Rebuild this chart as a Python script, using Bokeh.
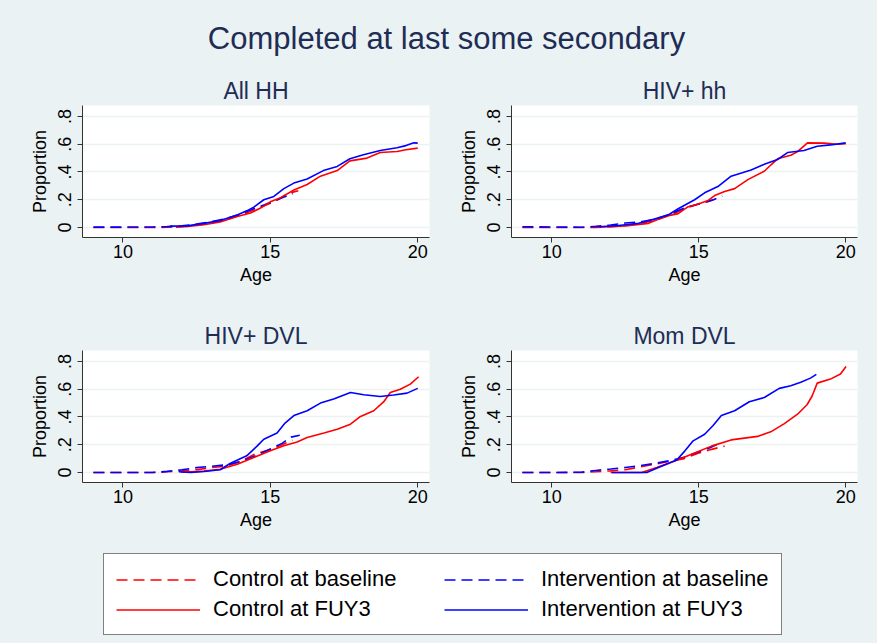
from bokeh.plotting import figure
from bokeh.models import Range1d, FixedTicker, Legend, LegendItem, Label
from bokeh.layouts import column, row
from bokeh.embed import file_html
from bokeh.resources import INLINE

BG = "#EAF2F3"
NAVY = "#1f2d55"
FONT = "Liberation Sans"
RED = "#FF0000"
BLUE = "#0000FF"
DASH = "11 6"

main_title = "Completed at last some secondary"
panel_titles = ["All HH", "HIV+ hh", "HIV+ DVL", "Mom DVL"]
x_label = "Age"
y_label = "Proportion"
x_ticks = [10, 15, 20]
y_ticks = [0, 0.2, 0.4, 0.6, 0.8]
y_tick_labels = ["0", ".2", ".4", ".6", ".8"]
series_names = ["Control at baseline", "Intervention at baseline",
                "Control at FUY3", "Intervention at FUY3"]

# ---- All HH ----
allhh_ctrl_base_age = [9, 10, 11, 11.5, 12, 12.5, 13, 13.5, 14, 14.5, 15, 15.3, 15.6, 15.95]
allhh_ctrl_base_p = [0, 0, 0, 0.002, 0.007, 0.018, 0.033, 0.058, 0.09, 0.13, 0.175, 0.205, 0.245, 0.265]
allhh_int_base_age = [9, 10, 11, 11.5, 12, 12.5, 13, 13.5, 14, 14.5, 15, 15.4, 15.77]
allhh_int_base_p = [0.003, 0.003, 0.004, 0.006, 0.012, 0.025, 0.042, 0.065, 0.098, 0.14, 0.18, 0.215, 0.243]
allhh_ctrl_fu3_age = [11.8, 12.2, 12.75, 13.3, 13.88, 14.33, 14.67, 15.0, 15.35, 15.8, 16.25, 16.7,
                      17.27, 17.7, 18.28, 18.73, 19.3, 19.6, 20.0]
allhh_ctrl_fu3_p = [0.003, 0.007, 0.02, 0.04, 0.08, 0.105, 0.14, 0.185, 0.215, 0.27, 0.31, 0.37,
                    0.41, 0.48, 0.50, 0.54, 0.548, 0.56, 0.572]
allhh_int_fu3_age = [11.6, 12.18, 12.75, 13.3, 13.88, 14.2, 14.44, 14.78, 15.12, 15.46, 15.8, 16.25,
                     16.8, 17.27, 17.7, 18.16, 18.73, 19.3, 19.6, 19.87, 20.0]
allhh_int_fu3_p = [0.01, 0.012, 0.03, 0.05, 0.09, 0.12, 0.147, 0.2, 0.224, 0.28, 0.32, 0.35,
                   0.41, 0.44, 0.495, 0.524, 0.555, 0.575, 0.59, 0.61, 0.608]

# ---- HIV+ hh ----
hivhh_ctrl_base_age = [9, 10, 11, 11.5, 12, 12.5, 13, 13.5, 14, 14.5, 15, 15.3, 15.5]
hivhh_ctrl_base_p = [0, 0, 0, 0, 0.006, 0.014, 0.03, 0.05, 0.085, 0.135, 0.17, 0.185, 0.2]
hivhh_int_base_age = [9, 10, 11, 11.5, 12, 12.5, 13, 13.5, 14, 14.5, 15, 15.5, 15.8]
hivhh_int_base_p = [0.005, 0.004, 0.002, 0.008, 0.018, 0.033, 0.04, 0.06, 0.095, 0.14, 0.17, 0.2, 0.228]
hivhh_ctrl_fu3_age = [11.6, 12.5, 13.29, 13.85, 14.3, 14.64, 14.98, 15.32, 15.54, 15.88, 16.22, 16.67,
                      17.23, 17.45, 17.68, 18.13, 18.35, 18.7, 19.26, 19.71, 20.0]
hivhh_ctrl_fu3_p = [0.002, 0.012, 0.03, 0.08, 0.1, 0.15, 0.17, 0.195, 0.23, 0.26, 0.28, 0.345,
                    0.405, 0.45, 0.495, 0.52, 0.545, 0.61, 0.608, 0.6, 0.603]
hivhh_int_fu3_age = [11.6, 12.27, 12.95, 13.4, 13.96, 14.3, 14.86, 15.2, 15.65, 16.1, 16.78, 17.23,
                     17.68, 18.02, 18.58, 19.03, 19.48, 20.0]
hivhh_int_fu3_p = [0.005, 0.015, 0.03, 0.055, 0.09, 0.135, 0.2, 0.25, 0.295, 0.37, 0.415, 0.455,
                   0.49, 0.54, 0.555, 0.585, 0.595, 0.61]

# ---- HIV+ DVL ----
hivdvl_ctrl_base_age = [9, 10, 11, 11.5, 12, 12.5, 13, 13.5, 14, 14.5, 15, 15.3, 15.75]
hivdvl_ctrl_base_p = [0, 0, 0, 0.005, 0.012, 0.02, 0.035, 0.045, 0.08, 0.135, 0.165, 0.19, 0.233]
hivdvl_int_base_age = [9, 10, 11, 11.5, 12, 12.5, 13, 13.5, 14, 14.5, 15, 15.4, 15.7, 16.0]
hivdvl_int_base_p = [0, 0, 0, 0.008, 0.02, 0.035, 0.045, 0.055, 0.08, 0.12, 0.17, 0.21, 0.255, 0.268]
hivdvl_ctrl_fu3_age = [11.98, 12.75, 13.3, 13.88, 14.44, 15.0, 15.46, 15.91, 16.25, 16.82, 17.27, 17.72,
                       18.06, 18.51, 18.85, 19.07, 19.41, 19.75, 20.03]
hivdvl_ctrl_fu3_p = [0.002, 0.01, 0.024, 0.06, 0.108, 0.156, 0.192, 0.22, 0.252, 0.284, 0.312, 0.348,
                     0.404, 0.445, 0.51, 0.577, 0.6, 0.637, 0.69]
hivdvl_int_fu3_age = [11.9, 12.3, 12.75, 13.3, 13.65, 14.2, 14.55, 14.78, 15.23, 15.5, 15.8, 16.25,
                      16.7, 17.15, 17.72, 18.17, 18.73, 19.18, 19.64, 20.0]
hivdvl_int_fu3_p = [0.005, 0, 0.007, 0.02, 0.067, 0.12, 0.19, 0.24, 0.284, 0.356, 0.41, 0.445,
                    0.5, 0.53, 0.577, 0.56, 0.548, 0.558, 0.572, 0.606]

# ---- Mom DVL ----
momdvl_ctrl_base_age = [9, 10, 11, 11.5, 12, 12.5, 13, 13.5, 14, 14.5, 15, 15.4, 15.88]
momdvl_ctrl_base_p = [0, 0, 0, 0.005, 0.012, 0.02, 0.04, 0.06, 0.08, 0.1, 0.14, 0.165, 0.19]
momdvl_int_base_age = [9, 10, 11, 11.5, 12, 12.5, 13, 13.5, 14, 14.5, 15, 15.4, 15.8]
momdvl_int_base_p = [0, 0, 0.002, 0.015, 0.025, 0.036, 0.05, 0.065, 0.085, 0.11, 0.15, 0.18, 0.22]
momdvl_ctrl_fu3_age = [12.0, 13.06, 13.57, 14.25, 14.86, 15.43, 16.1, 17.0, 17.45, 17.9, 18.36, 18.69,
                       18.86, 19.03, 19.48, 19.82, 20.01]
momdvl_ctrl_fu3_p = [0, 0, 0.036, 0.089, 0.14, 0.19, 0.235, 0.26, 0.293, 0.35, 0.42, 0.49,
                     0.553, 0.644, 0.673, 0.71, 0.764]
momdvl_int_fu3_age = [12.05, 13.23, 13.63, 14.25, 14.53, 14.81, 15.2, 15.48, 15.77, 16.22, 16.72, 17.23,
                      17.74, 18.13, 18.47, 18.8, 19.0]
momdvl_int_fu3_p = [0, 0, 0.036, 0.09, 0.156, 0.228, 0.276, 0.337, 0.41, 0.445, 0.51, 0.54,
                    0.606, 0.625, 0.65, 0.68, 0.707]

panels_data = [
    [(allhh_ctrl_base_age, allhh_ctrl_base_p), (allhh_int_base_age, allhh_int_base_p),
     (allhh_ctrl_fu3_age, allhh_ctrl_fu3_p), (allhh_int_fu3_age, allhh_int_fu3_p)],
    [(hivhh_ctrl_base_age, hivhh_ctrl_base_p), (hivhh_int_base_age, hivhh_int_base_p),
     (hivhh_ctrl_fu3_age, hivhh_ctrl_fu3_p), (hivhh_int_fu3_age, hivhh_int_fu3_p)],
    [(hivdvl_ctrl_base_age, hivdvl_ctrl_base_p), (hivdvl_int_base_age, hivdvl_int_base_p),
     (hivdvl_ctrl_fu3_age, hivdvl_ctrl_fu3_p), (hivdvl_int_fu3_age, hivdvl_int_fu3_p)],
    [(momdvl_ctrl_base_age, momdvl_ctrl_base_p), (momdvl_int_base_age, momdvl_int_base_p),
     (momdvl_ctrl_fu3_age, momdvl_ctrl_fu3_p), (momdvl_int_fu3_age, momdvl_int_fu3_p)],
]
series_styles = [(RED, DASH), (BLUE, DASH), (RED, "solid"), (BLUE, "solid")]
LW = 1.6


def make_panel(title, data, w, h, bl, br, bt, bb):
    p = figure(width=w, height=h, x_range=Range1d(8.63, 20.4), y_range=Range1d(-0.072, 0.879),
               output_backend="svg", toolbar_location=None,
               min_border_left=bl, min_border_right=br, min_border_top=bt, min_border_bottom=bb,
               background_fill_color="white", border_fill_color=BG, outline_line_color=None)
    p.title.text = title
    p.title.align = "center"
    p.title.text_font = FONT
    p.title.text_font_size = "23px"
    p.title.text_font_style = "normal"
    p.title.text_color = NAVY
    p.title.standoff = 4
    for (xs, ys), (col, dash) in zip(data, series_styles):
        p.line(xs, ys, line_color=col, line_width=LW, line_dash=dash)
    p.xaxis.ticker = FixedTicker(ticks=x_ticks)
    p.yaxis.ticker = FixedTicker(ticks=y_ticks)
    p.yaxis.major_label_overrides = dict(zip(y_ticks, y_tick_labels))
    p.yaxis.major_label_orientation = "vertical"
    p.xaxis.axis_label = x_label
    p.yaxis.axis_label = y_label
    for ax in (p.xaxis[0], p.yaxis[0]):
        ax.axis_line_color = "#333333"
        ax.major_tick_line_color = "#333333"
        ax.major_tick_out = 5
        ax.major_tick_in = 0
        ax.minor_tick_line_color = None
        ax.major_label_text_font = FONT
        ax.major_label_text_font_size = "18px"
        ax.major_label_text_color = "black"
        ax.axis_label_text_font = FONT
        ax.axis_label_text_font_size = "18px"
        ax.axis_label_text_font_style = "normal"
        ax.axis_label_text_color = "black"
    p.xaxis.major_label_standoff = 2
    p.xaxis.axis_label_standoff = 4
    p.yaxis.major_label_standoff = 6
    p.yaxis.axis_label_standoff = 6
    p.xgrid.grid_line_color = None
    p.ygrid.grid_line_color = BG
    p.ygrid.grid_line_width = 1.5
    return p


# title strip
tf = figure(width=877, height=70, x_range=Range1d(0, 877), y_range=Range1d(0, 70),
            output_backend="svg", toolbar_location=None, min_border=0,
            x_axis_location=None, y_axis_location=None,
            background_fill_color=BG, border_fill_color=BG, outline_line_color=None)
tf.xgrid.visible = False
tf.ygrid.visible = False
tf.add_layout(Label(x=446, y=32, text=main_title, text_align="center", text_baseline="middle",
                    text_font=FONT, text_font_size="31px", text_color=NAVY))

tl = make_panel(panel_titles[0], panels_data[0], 445, 245, 82, 16, 35, 78)
tr = make_panel(panel_titles[1], panels_data[1], 432, 245, 66, 20, 35, 78)
bl = make_panel(panel_titles[2], panels_data[2], 445, 230, 82, 16, 35, 63)
br = make_panel(panel_titles[3], panels_data[3], 432, 230, 66, 20, 35, 63)

# legend strip (legend renderers reuse the first panel's series, kept out of view)
lf = figure(width=877, height=98, x_range=Range1d(0, 1), y_range=Range1d(0, 1),
            output_backend="svg", toolbar_location=None, min_border=0,
            x_axis_location=None, y_axis_location=None,
            background_fill_color=BG, border_fill_color=BG, outline_line_color=None)
lf.xgrid.visible = False
lf.ygrid.visible = False
rends = {}
for name, (xs, ys), (col, dash) in zip(series_names, panels_data[0], series_styles):
    rends[name] = lf.line(xs, ys, line_color=col, line_width=LW, line_dash=dash)
# column-first fill: col 1 = Control, col 2 = Intervention
order = [series_names[0], series_names[2], series_names[1], series_names[3]]
items = [LegendItem(label=n, renderers=[rends[n]]) for n in order]
legend = Legend(items=items, ncols=2, location=(103, 8),
                glyph_width=84, glyph_height=25, label_height=25, label_width=227,
                label_standoff=13, spacing=4, padding=12, margin=0,
                label_text_font=FONT, label_text_font_size="22px", label_text_color="black",
                border_line_color="black", border_line_width=1,
                background_fill_color="white", background_fill_alpha=1.0)
lf.add_layout(legend, "center")

bgstyle = {"background-color": BG}
layout = column(tf, row(tl, tr, styles=bgstyle), row(bl, br, styles=bgstyle), lf, styles=bgstyle)
open("out.html", "w").write(file_html(layout, INLINE))
